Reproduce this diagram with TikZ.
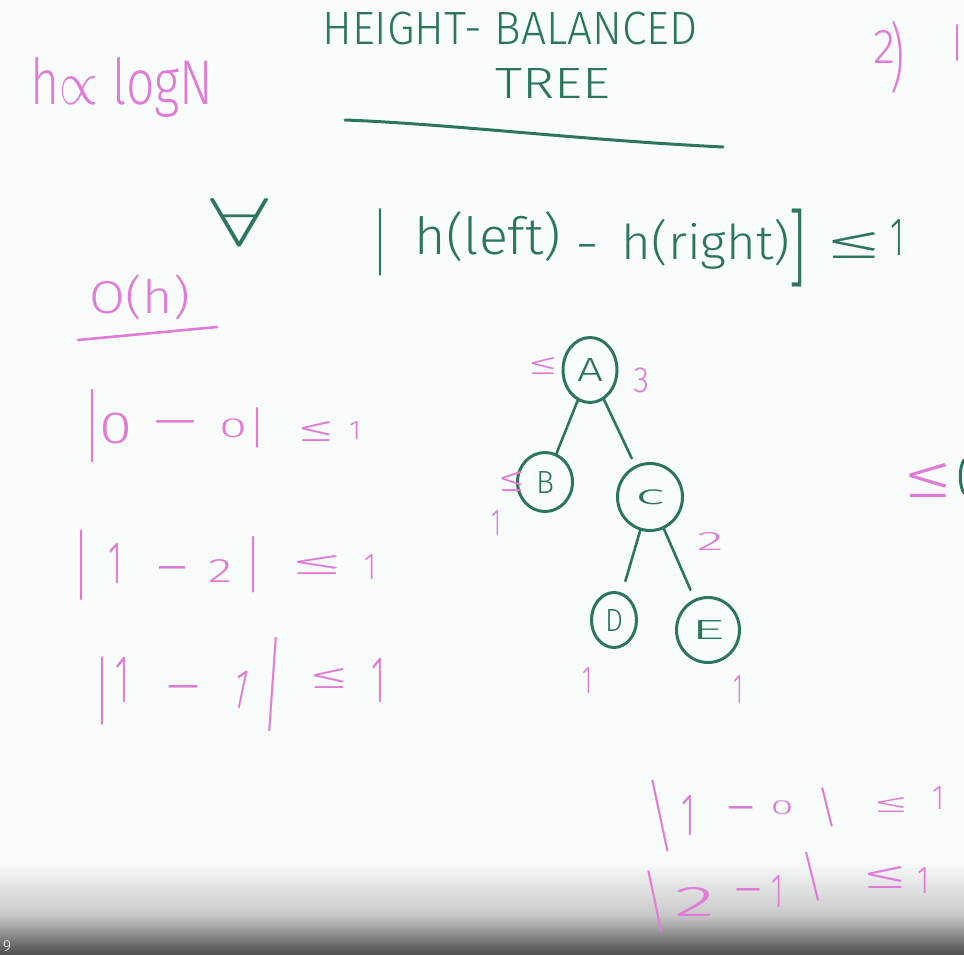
\documentclass[tikz,border=0pt]{standalone}
\usepackage{fontspec}
\setmainfont{Fira Sans}[UprightFont=* Light]
\usepackage{graphicx}
\usetikzlibrary{shapes.geometric}
\definecolor{ink}{HTML}{2E7560}
\definecolor{pnk}{HTML}{E07BD8}
\definecolor{board}{HTML}{F8FCFA}
\newcommand{\fitbox}[3]{\resizebox*{#1pt}{#2pt}{#3}}
% glyph node: style, name, x, y, width, height, text
\newcommand{\gl}[7]{\node[#1] (#2) at (#3,#4) {\fitbox{#5}{#6}{#7}};}
% minus node: style, name, x, y of the stroke top, width
\newcommand{\mn}[5]{\node[#1, anchor=north] (#2) at (#3,#4) {\fitbox{#5}{18}{−}};}
\tikzset{
  pk/.style={text=pnk, inner sep=0pt},
  gr/.style={text=ink, inner sep=0pt},
  nd/.style={ellipse, draw=ink, line width=3pt, text=ink, inner sep=0pt},
  edge/.style={draw=ink, line width=2.6pt, line cap=round},
  pline/.style={draw=pnk, line width=2.6pt, line cap=round},
  gline/.style={draw=ink, line width=3pt, line cap=round}
}
\begin{document}
\begin{tikzpicture}[x=1pt,y=-1pt]
\useasboundingbox (0,0) rectangle (964,955);
\fill[board] (0,0) rectangle (964,955);
\shade[top color=board, bottom color=black!22] (0,862) rectangle (964,916);
\shade[top color=black!22, bottom color=black!70] (0,915.5) rectangle (964,955);

% heading
\gl{pk}{hlog}{122}{87}{183}{60}{h$\propto$ logN}
\gl{gr}{t1}{510}{29}{375}{33}{HEIGHT- BALANCED}
\gl{gr}{t2}{553}{83}{115}{30}{TREE}
\draw[gline] (345,120) .. controls (450,124) and (580,140) .. (723,147);
\gl{pk}{two}{884}{47}{22}{33}{2}
\gl{pk}{twop}{897}{57}{14}{73}{)}
\draw[pline] (957,25) -- (957,60);

% condition
\gl{gr}{forall}{240}{222}{58}{47}{$\forall$}
\gl{gr}{cb1}{380}{242}{16}{67}{|}
\gl{gr}{cl}{488}{237}{146}{50}{h(left)}
\mn{gr}{cm}{587}{244.5}{22}
\gl{gr}{cr}{706}{244}{168}{50}{h(right)}
\gl{gr}{cb2}{797}{248}{18}{78}{]}
\gl{gr}{cle}{854}{245}{58}{26}{≤}
\gl{gr}{cone}{897}{237}{14}{36}{1}

% left column
\gl{pk}{oh}{140}{297}{100}{45}{O(h)}
\draw[pline] (78,340) -- (217,327);

% |0 - 0| <= 1
\gl{pk}{ea1}{93}{426}{16}{73}{|}
\gl{pk}{ea2}{116}{428}{33}{31}{0}
\mn{pk}{ea3}{175}{420.5}{52}
\gl{pk}{ea4}{233}{428}{28}{19}{0}
\gl{pk}{ea5}{258}{428}{16}{40}{|}
\gl{pk}{ea6}{317}{431}{38}{20}{≤}
\gl{pk}{ea7}{355}{430}{12}{18}{1}

% |1 - 2| <= 1
\gl{pk}{eb1}{82}{565}{16}{70}{|}
\gl{pk}{eb2}{115}{563}{14}{40}{1}
\mn{pk}{eb3}{172}{566.5}{36}
\gl{pk}{eb4}{220}{571}{24}{23}{2}
\gl{pk}{eb5}{253}{565}{16}{56}{|}
\gl{pk}{eb6}{318}{565}{54}{19}{≤}
\gl{pk}{eb7}{370}{567}{12}{25}{1}

% |1 - 1| <= 1
\gl{pk}{ec1}{103}{691}{16}{68}{|}
\gl{pk}{ec2}{122}{680}{14}{45}{1}
\mn{pk}{ec3}{183}{685.5}{40}
\node[pk, rotate=-12] (ec4) at (241,689) {\fitbox{14}{38}{1}};
\node[pk, rotate=-4] (ec5) at (273,685) {\fitbox{16}{94}{|}};
\gl{pk}{ec6}{330}{678}{40}{20}{≤}
\gl{pk}{ec7}{378}{680}{14}{44}{1}

% tree
\node[nd, minimum width=54pt, minimum height=65pt] (A) at (590,370) {\fitbox{26}{23}{A}};
\node[nd, minimum width=55pt, minimum height=59pt] (B) at (545,482) {\fitbox{18}{22}{B}};
\node[nd, minimum width=65pt, minimum height=67pt] (C) at (650,497) {\fitbox{30}{15}{c}};
\node[nd, minimum width=45pt, minimum height=55pt] (D) at (614,620) {\fitbox{18}{22}{D}};
\node[nd, minimum width=63pt, minimum height=65pt] (E) at (708,630) {\fitbox{34}{19}{E}};
\draw[edge] (A) -- (B);
\draw[edge, shorten >=8pt] (A) -- (C);
\draw[edge, shorten >=12pt] (C) -- (D);
\draw[edge, shorten >=10pt] (C) -- (E);

% tree annotations
\gl{pk}{leA}{543}{366}{30}{17}{≤}
\gl{pk}{hA}{641}{380}{16}{25}{3}
\gl{pk}{leB}{512}{481}{27}{20}{≤}
\gl{pk}{hB}{496}{523}{10}{25}{1}
\gl{pk}{hC}{710}{541}{27}{18}{2}
\gl{pk}{hD}{587}{680}{10}{26}{1}
\gl{pk}{hE}{738}{689}{10}{28}{1}

% right side
\gl{pk}{leR}{928}{480}{50}{34}{≤}
\draw[gline] (964,460) .. controls (959,467) and (959,486) .. (964,493);

% |1 - 0| <= 1
\node[pk, rotate=12] (ed1) at (660,816) {\fitbox{16}{73}{|}};
\gl{pk}{ed2}{688}{815}{14}{40}{1}
\mn{pk}{ed3}{741}{806.5}{33}
\gl{pk}{ed4}{782}{808}{23}{14}{0}
\node[pk, rotate=14] (ed5) at (827,807) {\fitbox{16}{40}{|}};
\gl{pk}{ed6}{891}{805}{36}{15}{≤}
\gl{pk}{ed7}{938}{798}{12}{23}{1}

% |2 - 1| <= 1
\node[pk, rotate=12] (ee1) at (655,901) {\fitbox{16}{62}{|}};
\gl{pk}{ee2}{695}{902}{41}{29}{2}
\mn{pk}{ee3}{748}{888.5}{32}
\gl{pk}{ee4}{777}{891}{12}{32}{1}
\node[pk, rotate=14] (ee5) at (813,877) {\fitbox{16}{50}{|}};
\gl{pk}{ee6}{885}{877}{46}{22}{≤}
\gl{pk}{ee7}{923}{880}{12}{26}{1}

\node[text=black!8, inner sep=0pt, font=\fontsize{16}{16}\selectfont] (nine) at (7,946) {9};
\end{tikzpicture}
\end{document}
